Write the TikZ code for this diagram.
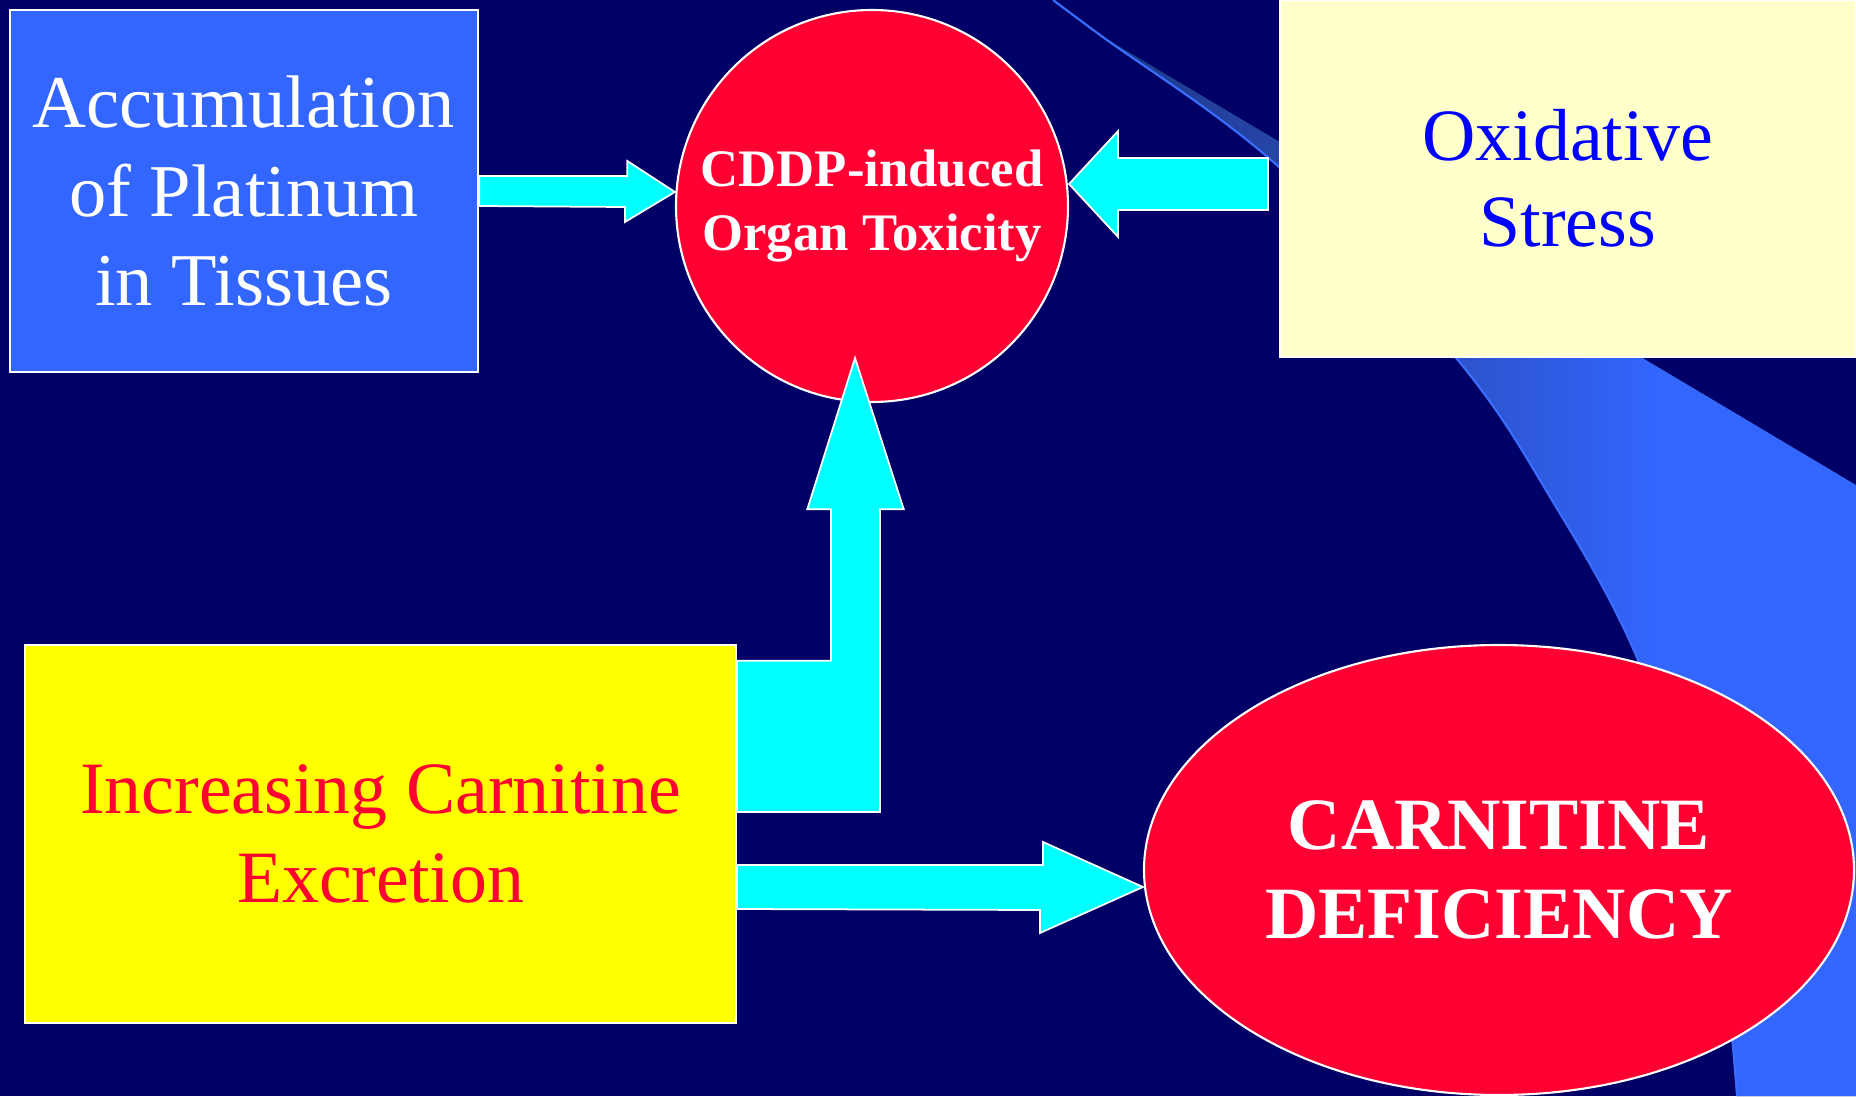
\documentclass[tikz,border=0pt]{standalone}
\usepackage{xcolor}
\usepackage{fontspec}
\setmainfont{Liberation Serif}
\usepackage{tikz}
\usetikzlibrary{calc,positioning,shapes.geometric}

\definecolor{slidebg}{HTML}{000066}
\definecolor{boxblue}{HTML}{3366FF}
\definecolor{toxred}{HTML}{FF0033}
\definecolor{paleyellow}{HTML}{FFFFCC}
\definecolor{brightyellow}{HTML}{FFFF00}
\definecolor{textblue}{HTML}{0000FF}
\definecolor{arrowcyan}{HTML}{00FFFF}
\definecolor{swdark}{HTML}{1E3788}
\definecolor{swmid}{HTML}{2C52C8}
\definecolor{swedge}{HTML}{3A6EFF}

\pgfdeclarehorizontalshading{swoosh}{100bp}{color(0bp)=(swdark); color(25bp)=(swdark); color(48bp)=(swmid); color(62bp)=(boxblue); color(100bp)=(boxblue)}

\begin{document}
\begin{tikzpicture}[
        box/.style={rectangle, draw=white, line width=0.6pt, inner sep=0pt, align=center},
        blockarrow/.style={draw=white, line width=0.5pt, fill=arrowcyan, line join=miter}
    ]
        % Background
        \fill[slidebg] (0,0) rectangle (18.56,10.96);
        \useasboundingbox (0,0) rectangle (18.56,10.96);

        % Swoosh
        \fill[shading=swoosh] (11.0,10.61) -- (18.56,6.11) -- (18.56,0) -- plot[smooth, tension=0.6] coordinates {(17.37,0) (17.1,2.2) (16.38,4.36) (15.5,5.99) (14.57,7.37) (12.8,9.28) (11.0,10.61)} -- cycle;
        \draw[swedge, line width=0.6pt] plot[smooth, tension=0.6] coordinates {(17.37,0) (17.1,2.2) (16.38,4.36) (15.5,5.99) (14.57,7.37) (12.8,9.28) (11.0,10.61) (10.53,10.96)};

        % Causes and effects
        \node[box, fill=boxblue, text=white, minimum width=4.685cm, minimum height=3.625cm, font=\fontsize{21.2}{25.4}\selectfont] (acc) at (2.44,9.05) {Accumulation\\of Platinum\\in Tissues};
        \node[circle, draw=white, line width=0.6pt, fill=toxred, text=white, minimum size=3.92cm, inner sep=0pt, align=center, font=\bfseries\fontsize{15}{18.4}\selectfont] (cddp) at (8.72,8.90) {CDDP-induced\\Organ Toxicity};
        \node[box, fill=paleyellow, text=textblue, minimum width=5.76cm, minimum height=3.57cm, font=\fontsize{21}{24.4}\selectfont] (oxi) at (15.68,9.175) {Oxidative\\Stress};
        \node[box, fill=brightyellow, text=toxred, minimum width=7.11cm, minimum height=3.78cm, font=\fontsize{21}{25.2}\selectfont] (inc) at (3.805,2.62) {Increasing Carnitine\\Excretion};
        \node[ellipse, draw=white, line width=0.6pt, fill=toxred, text=white, minimum width=7.1cm, minimum height=4.5cm, inner sep=0pt, align=center, font=\bfseries\fontsize{21}{25.2}\selectfont] (def) at (14.99,2.26) {CARNITINE\\DEFICIENCY};

        % Arrows
        \draw[blockarrow] ($(acc.east)+(0,0.15)$) -- ++(1.48,0) -- ++(0,0.15) -- ($(cddp.west)+(0,0.14)$) -- ++(-0.5,-0.3) -- ++(0,0.15) -- ($(acc.east)+(0,-0.15)$) -- cycle;
        \draw[blockarrow] ($(cddp.east)+(0,0.22)$) -- ++(0.49,0.53) -- ++(0,-0.27) -- ++(1.5,0) -- ++(0,-0.52) -- ++(-1.5,0) -- ++(0,-0.27) -- cycle;
        \draw[blockarrow] ($(inc.east)+(0,0.22)$) -- ++(1.43,0) -- ++(0,3.027) -- ++(0.237,0) -- ($(cddp.center)+(-0.17,-1.52)$) -- ++(-0.477,-1.513) -- ++(0.237,0) -- ++(0,-1.514) -- ($(inc.east)+(0,1.733)$) -- cycle;
        \draw[blockarrow] ($(inc.east)+(0,-0.31)$) -- ++(3.06,0) -- ++(0,0.23) -- ($(def.west)+(0,-0.17)$) -- ++(-1.03,-0.46) -- ++(0,0.23) -- ($(inc.east)+(0,-0.75)$) -- cycle;
    \end{tikzpicture}
\end{document}
